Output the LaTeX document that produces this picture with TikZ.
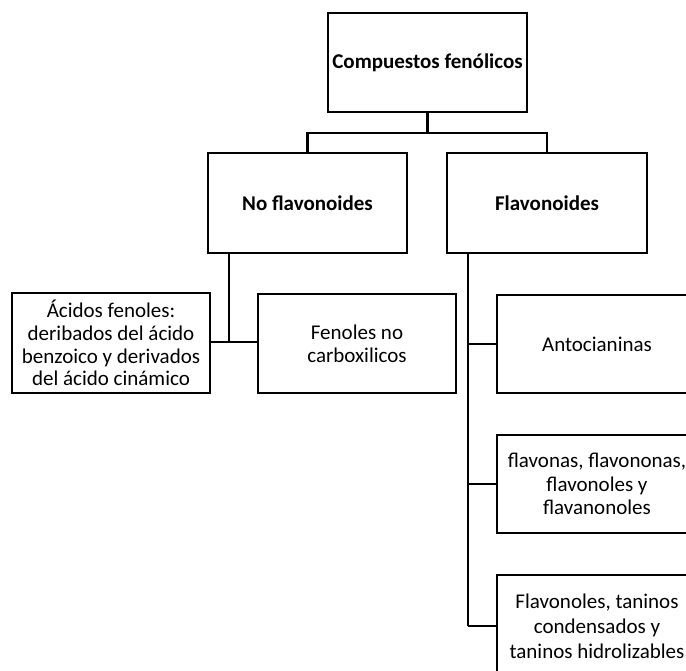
\documentclass[tikz,border=0pt]{standalone}
\usepackage{fontspec}
\setmainfont{Carlito}
\begin{document}
\begin{tikzpicture}[x=1pt,y=-1pt,
  box/.style={draw, line width=2.6pt, rectangle, align=center, inner sep=0pt,
    font=\fontsize{21}{23}\selectfont},
  bbox/.style={box, font=\fontsize{21}{23}\selectfont\bfseries},
  conn/.style={line width=2.6pt}]
\useasboundingbox (0,0) rectangle (686,670);
\clip (0,0) rectangle (686,670);
\fill[white] (0,0) rectangle (686,670);
\node[bbox, minimum width=199pt, minimum height=99pt] (top) at (427.5,62.5) {Compuestos fenólicos};
\node[bbox, minimum width=199pt, minimum height=100pt] (nof) at (307.5,203) {No flavonoides};
\node[bbox, minimum width=200pt, minimum height=100pt] (fla) at (547,203) {Flavonoides};
\node[box, minimum width=198pt, minimum height=100pt, font=\fontsize{21}{22.7}\selectfont] (aci) at (111,343) {Ácidos fenoles:\\deribados del ácido\\benzoico y derivados\\del ácido cinámico};
\node[box, minimum width=198pt, minimum height=99pt] (fen) at (357,343.5) {Fenoles no\\carboxilicos};
\node[box, minimum width=200pt, minimum height=98pt] (ant) at (597,344) {Antocianinas};
\node[box, minimum width=200pt, minimum height=98pt, font=\fontsize{21}{23.3}\selectfont] (flv) at (597,484) {flavonas, flavononas,\\flavonoles y\\flavanonoles};
\node[box, minimum width=200pt, minimum height=102pt, font=\fontsize{21}{25}\selectfont] (tan) at (597,626) {Flavonoles, taninos\\condensados y\\taninos hidrolizables};
\coordinate (bar) at (427.5,133);
\coordinate (nofdown) at (229,342);
\coordinate (fladown) at (468,626);
\draw[conn] (top.south) -- (bar);
\draw[conn] (nof.north) -- (nof.north |- bar) -- (fla.north |- bar) -- (fla.north);
\draw[conn] (nof.south -| nofdown) -- (nofdown);
\draw[conn] (aci.east |- nofdown) -- (fen.west |- nofdown);
\draw[conn] (fla.south -| fladown) -- (fladown);
\draw[conn] (ant.west) -- (ant.west -| fladown);
\draw[conn] (flv.west) -- (flv.west -| fladown);
\draw[conn] (tan.west) -- (fladown);
\end{tikzpicture}
\end{document}
